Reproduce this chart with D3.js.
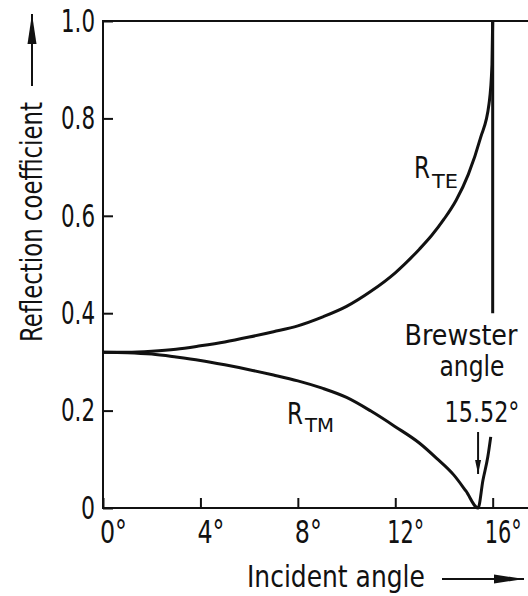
<!DOCTYPE html>
<html>
<head>
<meta charset="utf-8">
<script src="https://cdn.jsdelivr.net/npm/d3@7/dist/d3.min.js"></script>
<style>
  html, body { margin: 0; padding: 0; background: #fff; }
  svg text { font-family: "DejaVu Sans Condensed", "DejaVu Sans", sans-serif; font-stretch: condensed; fill: #111; }
</style>
</head>
<body>
<svg id="chart" width="528" height="596"></svg>
<script>
// ---- data ----
const teAngles = [0, 1, 2, 3, 4, 5, 6, 7, 8, 9, 10, 11, 12, 13, 13.5, 14, 14.5, 15, 15.5, 15.85, 15.97, 16];
const teValues = [0.32, 0.32, 0.322, 0.326, 0.333, 0.341, 0.351, 0.362, 0.374, 0.392, 0.414, 0.445, 0.483, 0.532, 0.56, 0.593, 0.632, 0.685, 0.76, 0.83, 0.91, 1.0];
const tmAngles = [0, 1, 2, 3, 4, 5, 6, 7, 8, 9, 10, 11, 12, 13, 13.7, 14.4, 14.9, 15.4, 15.6, 15.8, 15.92];
const tmValues = [0.32, 0.319, 0.316, 0.31, 0.303, 0.294, 0.284, 0.273, 0.261, 0.246, 0.227, 0.199, 0.167, 0.133, 0.102, 0.068, 0.035, 0.0, 0.057, 0.105, 0.146];
const criticalAngle = 16;
const criticalRange = [0.4, 1.0];
const brewsterAngle = 15.4;
const xTicks = [0, 4, 8, 12, 16];
const yTicks = [0, 0.2, 0.4, 0.6, 0.8, 1.0];
const xTitle = "Incident angle";
const yTitle = "Reflection coefficient";
const brewsterLines = ["Brewster", "angle", "15.52°"];

// ---- layout ----
const svg = d3.select("#chart");
const mLeft = 103, mRight = 528, mTop = 21, mBottom = 508;
const x = d3.scaleLinear().domain([0, 17.45]).range([mLeft, mRight]);
const y = d3.scaleLinear().domain([0, 1]).range([mBottom, mTop]);
const ink = "#111";

// horizontally condense a text element to a target width around its anchor x
function squeeze(node, target) {
  const w = node.getComputedTextLength();
  if (!w) return;
  const k = target / w;
  const ax = +(node.getAttribute("x") || 0);
  const prev = node.getAttribute("transform") || "";
  node.setAttribute("transform", `${prev} translate(${ax},0) scale(${k},1) translate(${-ax},0)`.trim());
}
function fit(sel, w) { sel.each(function() { squeeze(this, w); }); return sel; }

const defs = svg.append("defs");
defs.append("marker")
  .attr("id", "arrow").attr("viewBox", "0 0 30 10").attr("refX", 30).attr("refY", 5)
  .attr("markerWidth", 30).attr("markerHeight", 10).attr("markerUnits", "userSpaceOnUse")
  .attr("orient", "auto")
  .append("path").attr("d", "M0,0.5 L30,5 L0,9.5 Z").attr("fill", ink);
defs.append("marker")
  .attr("id", "arrowS").attr("viewBox", "0 0 14 8").attr("refX", 14).attr("refY", 4)
  .attr("markerWidth", 14).attr("markerHeight", 8).attr("markerUnits", "userSpaceOnUse")
  .attr("orient", "auto")
  .append("path").attr("d", "M0,1 L14,4 L0,7 Z").attr("fill", ink);

// frame lines
svg.append("path").attr("d", `M${mRight},${mTop} H${mLeft} V${mBottom} H${mRight}`)
  .attr("fill", "none").attr("stroke", ink).attr("stroke-width", 2);

// y axis
const yAxis = d3.axisLeft(y).tickValues(yTicks).tickSize(-10).tickPadding(8)
  .tickFormat(d => d === 0 ? "0" : d.toFixed(1));
const gy = svg.append("g").attr("transform", `translate(${mLeft},0)`).call(yAxis);
gy.select(".domain").remove();
gy.selectAll("line").attr("stroke", ink).attr("stroke-width", 2);
gy.selectAll("text").attr("font-size", 32).attr("font-family", null).style("fill", ink)
  .each(function(d) { squeeze(this, d === 0 ? 14 : 34); });

// x axis
const xAxis = d3.axisBottom(x).tickValues(xTicks).tickSize(-10).tickPadding(12)
  .tickFormat(d => d + "°");
const gx = svg.append("g").attr("transform", `translate(0,${mBottom})`).call(xAxis);
gx.select(".domain").remove();
gx.selectAll("line").attr("stroke", ink).attr("stroke-width", 2);
gx.selectAll("text").attr("font-size", 32).attr("font-family", null).attr("x", 10).style("fill", ink)
  .each(function(d) { squeeze(this, d >= 10 ? 37 : 27); });

// curves
const line = d3.line().x(d => x(d[0])).y(d => y(d[1])).curve(d3.curveMonotoneX);
svg.append("path").datum(d3.zip(teAngles, teValues)).attr("d", line)
  .attr("fill", "none").attr("stroke", ink).attr("stroke-width", 3);
svg.append("path").datum(d3.zip(tmAngles, tmValues)).attr("d", line)
  .attr("fill", "none").attr("stroke", ink).attr("stroke-width", 3);
svg.append("line")
  .attr("x1", x(criticalAngle)).attr("x2", x(criticalAngle))
  .attr("y1", y(criticalRange[0])).attr("y2", y(criticalRange[1]))
  .attr("stroke", ink).attr("stroke-width", 3);

// curve labels
function subLabel(xp, yp, main, sub, xs, ys, wSub) {
  fit(svg.append("text").attr("x", xp).attr("y", yp).attr("font-size", 30).text(main), 16);
  fit(svg.append("text").attr("x", xs).attr("y", ys).attr("font-size", 20).text(sub), wSub);
}
subLabel(414, 178, "R", "TE", 432, 188, 26);
subLabel(287, 424, "R", "TM", 305, 432, 29);

// Brewster annotation
const bx = [461, 472, 482];
const by = [345, 376, 422];
const bw = [113, 65, 75];
brewsterLines.forEach((s, i) => {
  fit(svg.append("text").attr("x", bx[i]).attr("y", by[i]).attr("text-anchor", "middle")
    .attr("font-size", 28).text(s), bw[i]);
});
svg.append("line").attr("x1", x(brewsterAngle)).attr("x2", x(brewsterAngle))
  .attr("y1", 432).attr("y2", 474)
  .attr("stroke", ink).attr("stroke-width", 2).attr("marker-end", "url(#arrowS)");

// axis titles with arrows
fit(svg.append("text").attr("x", 247).attr("y", 587).attr("font-size", 31).text(xTitle), 178);
svg.append("line").attr("x1", 442).attr("x2", 524).attr("y1", 579).attr("y2", 579)
  .attr("stroke", ink).attr("stroke-width", 2).attr("marker-end", "url(#arrow)");

fit(svg.append("text").attr("transform", "translate(42,222) rotate(-90)")
  .attr("text-anchor", "middle").attr("font-size", 31).text(yTitle), 240);
svg.append("line").attr("x1", 32).attr("x2", 32).attr("y1", 86).attr("y2", 14)
  .attr("stroke", ink).attr("stroke-width", 2).attr("marker-end", "url(#arrow)");
</script>
</body>
</html>
